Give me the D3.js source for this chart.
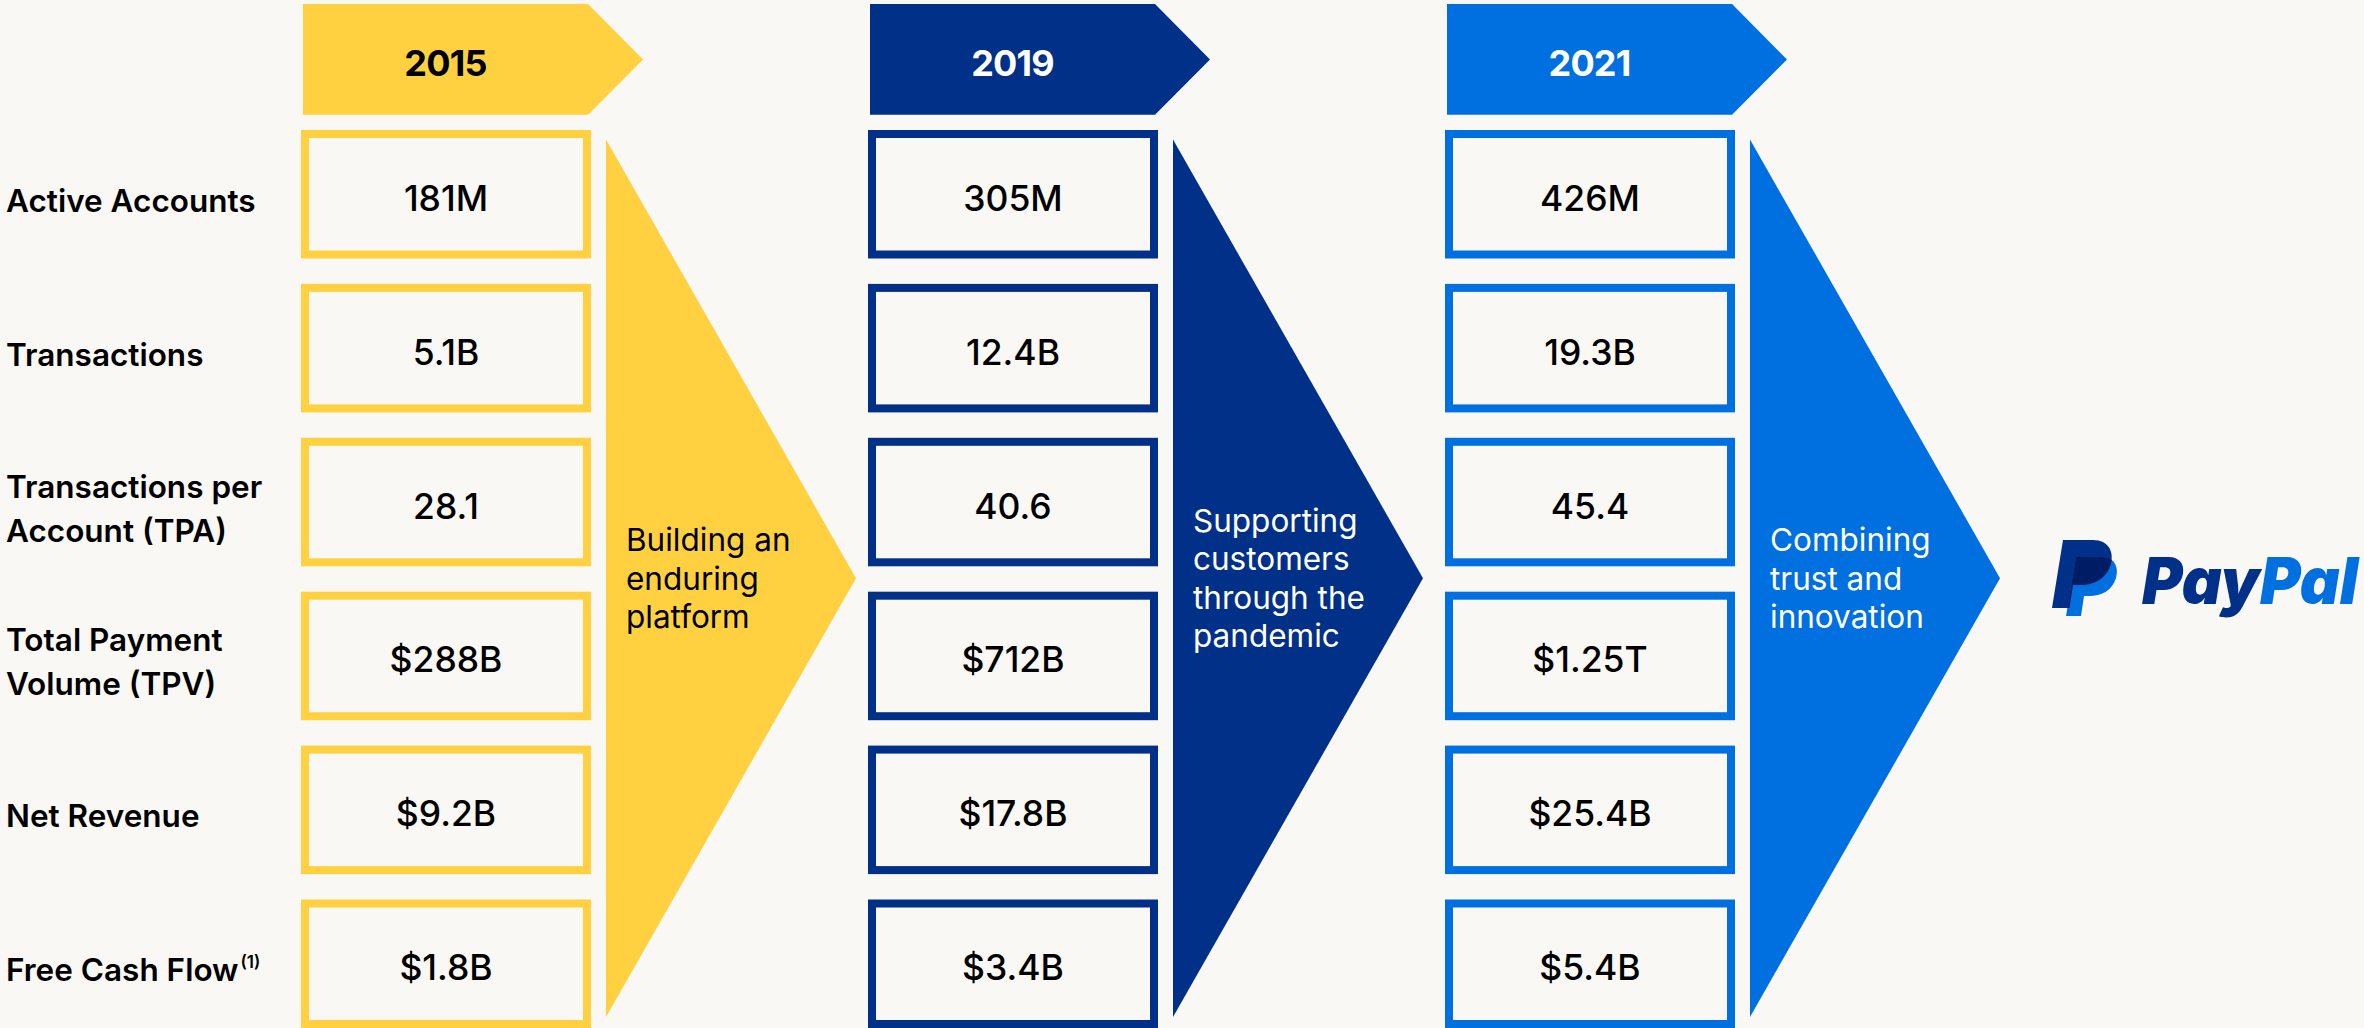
<!DOCTYPE html>
<html>
<head>
<meta charset="utf-8">
<script src="https://cdn.jsdelivr.net/npm/d3@7"></script>
<style>
  html, body { margin: 0; padding: 0; background: #f9f8f5; }
  svg { display: block; font-family: Inter, "Noto Sans", sans-serif; }
</style>
</head>
<body>
<svg id="chart" width="2364" height="1028"></svg>
<script>
// chart data
var years = ["2015", "2019", "2021"];
var metrics = ["Active Accounts", "Transactions", "Transactions per|Account (TPA)",
               "Total Payment|Volume (TPV)", "Net Revenue", "Free Cash Flow"];
var values2015 = ["181M", "5.1B", "28.1", "$288B", "$9.2B", "$1.8B"];
var values2019 = ["305M", "12.4B", "40.6", "$712B", "$17.8B", "$3.4B"];
var values2021 = ["426M", "19.3B", "45.4", "$1.25T", "$25.4B", "$5.4B"];
var themes = ["Building an|enduring|platform",
              "Supporting|customers|through the|pandemic",
              "Combining|trust and|innovation"];
var yearColors = ["#ffd140", "#003087", "#0070e0"];
var headerText = ["#000000", "#ffffff", "#ffffff"];

var valuesByYear = [values2015, values2019, values2021];

var svg = d3.select("#chart");
var W = 2364, H = 1028;

svg.append("rect").attr("width", W).attr("height", H).attr("fill", "#f9f8f5");

var x = d3.scaleOrdinal().domain(years).range([301, 868, 1445]);
var color = d3.scaleOrdinal().domain(years).range(yearColors);
var txtColor = d3.scaleOrdinal().domain(years).range(headerText);

var y = d3.scaleBand()
    .domain(metrics)
    .range([130, 1028])
    .paddingInner(0.165)
    .paddingOuter(0);

var boxW = 290, stroke = 8;
var triTop = 139.5, triBottom = 1017;

// columns
var cols = svg.selectAll("g.col")
    .data(years)
    .enter()
    .append("g")
        .attr("class", "col")
        .attr("transform", function(d) { return "translate(" + x(d) + ",0)"; });

// header arrows
cols.append("path")
    .attr("fill", function(d) { return color(d); })
    .attr("d", function() {
        return "M2,4 L287,4 L342,59.5 L287,114.7 L2,114.7 Z";
    });

cols.append("text")
    .text(function(d) { return d; })
    .attr("x", 144.5)
    .attr("y", 76)
    .attr("text-anchor", "middle")
    .attr("font-size", 36)
    .attr("font-weight", 700)
    .attr("letter-spacing", -0.8)
    .attr("fill", function(d) { return txtColor(d); });

// value boxes
cols.each(function(yr, i) {
    var g = d3.select(this);
    var rows = g.selectAll("g.box")
        .data(metrics.map(function(m, j) { return { metric: m, value: valuesByYear[i][j] }; }))
        .enter()
        .append("g")
            .attr("class", "box");

    rows.append("rect")
        .attr("x", stroke / 2)
        .attr("y", function(d) { return y(d.metric) + stroke / 2; })
        .attr("width", boxW - stroke)
        .attr("height", y.bandwidth() - stroke)
        .attr("fill", "#f9f8f5")
        .attr("stroke", color(yr))
        .attr("stroke-width", stroke);

    rows.append("text")
        .text(function(d) { return d.value; })
        .attr("x", boxW / 2)
        .attr("y", function(d) { return y(d.metric) + y.bandwidth() / 2 + 16.5; })
        .attr("text-anchor", "middle")
        .attr("font-size", 35.5)
        .attr("font-weight", 500)
        .attr("fill", "#000");

    // big arrow
    var tx = boxW + 15;
    g.append("path")
        .attr("fill", color(yr))
        .attr("d", "M" + tx + "," + triTop + " L" + (tx + 250) + "," + ((triTop + triBottom) / 2) +
                   " L" + tx + "," + triBottom + " Z");

    var lines = themes[i].split("|");
    var mid = 589.5, lh = 38.3;
    g.append("text")
        .attr("font-size", 31.5)
        .attr("fill", txtColor(yr))
        .selectAll("tspan")
        .data(lines)
        .enter()
        .append("tspan")
            .attr("x", tx + 20)
            .attr("y", function(d, k) { return mid + (k - (lines.length - 1) / 2) * lh; })
            .text(function(d) { return d; });
});

// row labels
var labels = svg.selectAll("text.label")
    .data(metrics)
    .enter()
    .append("text")
        .attr("class", "label")
        .attr("font-size", 31.5)
        .attr("font-weight", 600)
        .attr("fill", "#000");

labels.each(function(m) {
    var t = d3.select(this);
    var lines = m.split("|");
    var c = y(m) + y.bandwidth() / 2 + 17.5;
    lines.forEach(function(l, k) {
        t.append("tspan")
            .attr("x", 6)
            .attr("y", c + (k - (lines.length - 1) / 2) * 44)
            .text(l);
    });
    if (m == "Free Cash Flow") {
        t.append("tspan")
            .attr("font-size", 17)
            .attr("dy", -13)
            .attr("dx", 2)
            .text("(1)");
    }
});

// PayPal logo
var logo = svg.append("g").attr("class", "logo");
var backP = "M2063,540 L2093,540 C2109,540 2114,552 2111,564 C2107,578 2095,585 2081,585 L2073,585 L2069.5,608 L2052,608 Z";
var frontP = "M2076,557 L2102,557 C2115,557 2119,568 2116,578 C2112,591 2101,596 2089,596 L2084,596 L2081,616 L2066,616 Z";

logo.append("clipPath").attr("id", "backClip")
    .append("path").attr("d", backP);

logo.append("path").attr("d", backP).attr("fill", "#003087");
logo.append("path").attr("d", frontP).attr("fill", "#0070e0");
logo.append("path").attr("d", frontP).attr("fill", "#001c64").attr("clip-path", "url(#backClip)");

var word = logo.append("text")
    .attr("x", 2142)
    .attr("y", 604)
    .attr("font-size", 65)
    .attr("font-weight", 900)
    .attr("font-style", "italic")
    .attr("textLength", 216)
    .attr("lengthAdjust", "spacingAndGlyphs");
word.append("tspan").attr("fill", "#003087").text("Pay");
word.append("tspan").attr("fill", "#0070e0").text("Pal");
</script>
</body>
</html>
